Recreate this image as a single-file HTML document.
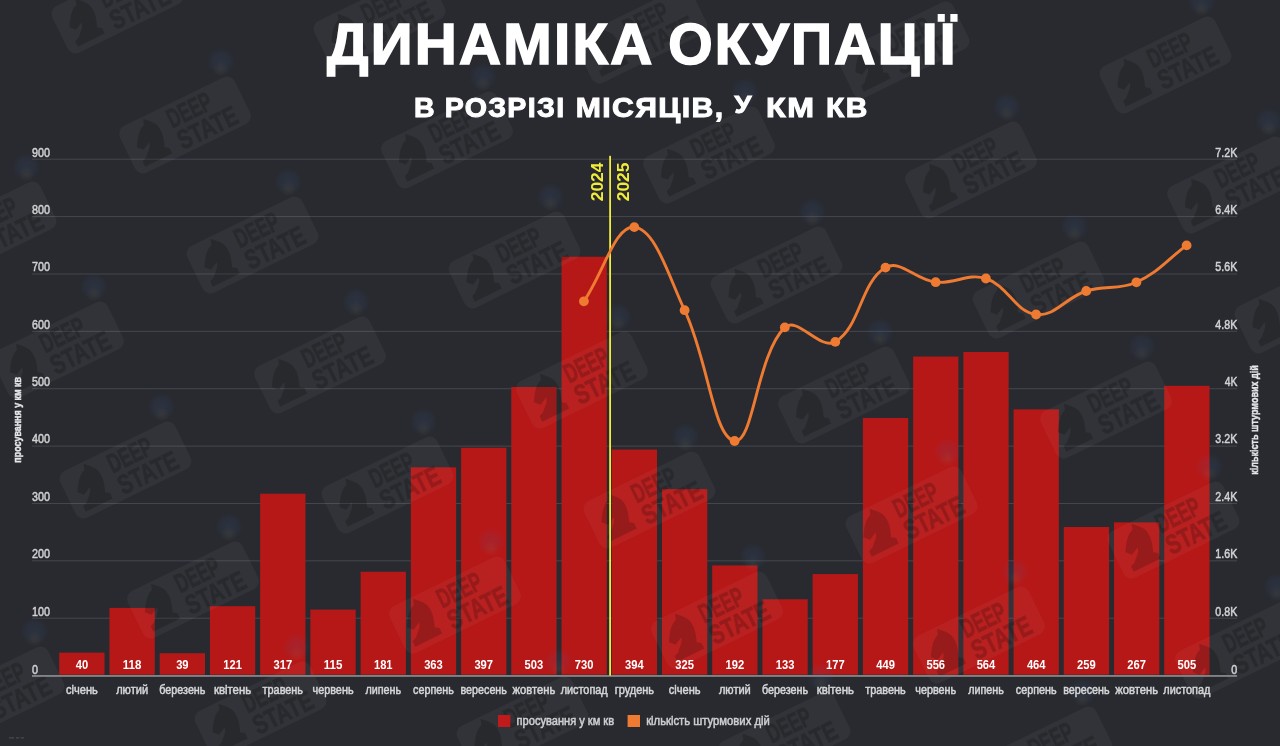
<!DOCTYPE html>
<html lang="uk"><head><meta charset="utf-8"><title>Динаміка окупації</title>
<style>html,body{margin:0;padding:0;background:#282a30;}body{width:1280px;height:746px;overflow:hidden;}</style></head>
<body>
<svg width="1280" height="746" viewBox="0 0 1280 746" style="display:block" font-family="'Liberation Sans', sans-serif">
<rect width="1280" height="746" fill="#282a30"/>
<g fill="#45474d">
<rect x="32" y="617.72" width="1205" height="1"/>
<rect x="32" y="560.34" width="1205" height="1"/>
<rect x="32" y="502.97" width="1205" height="1"/>
<rect x="32" y="445.59" width="1205" height="1"/>
<rect x="32" y="388.21" width="1205" height="1"/>
<rect x="32" y="330.83" width="1205" height="1"/>
<rect x="32" y="273.46" width="1205" height="1"/>
<rect x="32" y="216.08" width="1205" height="1"/>
<rect x="32" y="158.70" width="1205" height="1"/>
</g>
<g fill="#b61818">
<rect x="59.25" y="652.65" width="45.3" height="22.05"/>
<rect x="109.48" y="607.89" width="45.3" height="66.81"/>
<rect x="159.70" y="653.22" width="45.3" height="21.48"/>
<rect x="209.93" y="606.17" width="45.3" height="68.53"/>
<rect x="260.16" y="493.71" width="45.3" height="180.99"/>
<rect x="310.38" y="609.62" width="45.3" height="65.08"/>
<rect x="360.61" y="571.75" width="45.3" height="102.95"/>
<rect x="410.84" y="467.32" width="45.3" height="207.38"/>
<rect x="461.07" y="447.81" width="45.3" height="226.89"/>
<rect x="511.29" y="386.99" width="45.3" height="287.71"/>
<rect x="561.52" y="256.74" width="45.3" height="417.96"/>
<rect x="611.75" y="449.53" width="45.3" height="225.17"/>
<rect x="661.97" y="489.12" width="45.3" height="185.58"/>
<rect x="712.20" y="565.43" width="45.3" height="109.27"/>
<rect x="762.43" y="599.29" width="45.3" height="75.41"/>
<rect x="812.65" y="574.04" width="45.3" height="100.66"/>
<rect x="862.88" y="417.97" width="45.3" height="256.73"/>
<rect x="913.11" y="356.58" width="45.3" height="318.12"/>
<rect x="963.34" y="351.99" width="45.3" height="322.71"/>
<rect x="1013.56" y="409.37" width="45.3" height="265.33"/>
<rect x="1063.79" y="526.99" width="45.3" height="147.71"/>
<rect x="1114.02" y="522.40" width="45.3" height="152.30"/>
<rect x="1164.24" y="385.84" width="45.3" height="288.86"/>
</g>
<defs><radialGradient id="emb"><stop offset="0" stop-color="#3f68b3" stop-opacity="0.13"/><stop offset="0.6" stop-color="#3f68b3" stop-opacity="0.08"/><stop offset="1" stop-color="#3f68b3" stop-opacity="0"/></radialGradient><radialGradient id="emy"><stop offset="0" stop-color="#c9a227" stop-opacity="0.07"/><stop offset="1" stop-color="#c9a227" stop-opacity="0"/></radialGradient></defs>
<g id="wm">
<g transform="translate(1098.0,-55.0) rotate(-26)"><g transform="translate(60,-41) rotate(26)"><circle r="14" fill="url(#emb)"/><circle cy="7" r="8" fill="url(#emy)"/></g><rect x="-64" y="-26" width="128" height="52" rx="9" fill="#ffffff" opacity="0.042"/><path d="M-54,20 L-24,20 L-24,14 L-28,11 C-24,1 -21,-10 -29,-18 L-35,-24 L-37,-18 C-44,-16 -49,-8 -53,-1 L-48,4 L-40,0 C-40,5 -46,8 -49,12 L-54,14 Z" fill="#000000" opacity="0.18"/><g font-weight="700" font-size="27" fill="#000000" stroke="#000000" stroke-width="0.9" opacity="0.18"><text x="-13" y="-2.5" textLength="47" lengthAdjust="spacingAndGlyphs">DEEP</text><text x="-13" y="21.5" textLength="64" lengthAdjust="spacingAndGlyphs">STATE</text></g></g>
<g transform="translate(1360.0,-40.0) rotate(-26)"><g transform="translate(60,-41) rotate(26)"><circle r="14" fill="url(#emb)"/><circle cy="7" r="8" fill="url(#emy)"/></g><rect x="-64" y="-26" width="128" height="52" rx="9" fill="#ffffff" opacity="0.042"/><path d="M-54,20 L-24,20 L-24,14 L-28,11 C-24,1 -21,-10 -29,-18 L-35,-24 L-37,-18 C-44,-16 -49,-8 -53,-1 L-48,4 L-40,0 C-40,5 -46,8 -49,12 L-54,14 Z" fill="#000000" opacity="0.18"/><g font-weight="700" font-size="27" fill="#000000" stroke="#000000" stroke-width="0.9" opacity="0.18"><text x="-13" y="-2.5" textLength="47" lengthAdjust="spacingAndGlyphs">DEEP</text><text x="-13" y="21.5" textLength="64" lengthAdjust="spacingAndGlyphs">STATE</text></g></g>
<g transform="translate(117.5,5.0) rotate(-26)"><g transform="translate(60,-41) rotate(26)"><circle r="14" fill="url(#emb)"/><circle cy="7" r="8" fill="url(#emy)"/></g><rect x="-64" y="-26" width="128" height="52" rx="9" fill="#ffffff" opacity="0.042"/><path d="M-54,20 L-24,20 L-24,14 L-28,11 C-24,1 -21,-10 -29,-18 L-35,-24 L-37,-18 C-44,-16 -49,-8 -53,-1 L-48,4 L-40,0 C-40,5 -46,8 -49,12 L-54,14 Z" fill="#000000" opacity="0.18"/><g font-weight="700" font-size="27" fill="#000000" stroke="#000000" stroke-width="0.9" opacity="0.18"><text x="-13" y="-2.5" textLength="47" lengthAdjust="spacingAndGlyphs">DEEP</text><text x="-13" y="21.5" textLength="64" lengthAdjust="spacingAndGlyphs">STATE</text></g></g>
<g transform="translate(379.5,20.0) rotate(-26)"><g transform="translate(60,-41) rotate(26)"><circle r="14" fill="url(#emb)"/><circle cy="7" r="8" fill="url(#emy)"/></g><rect x="-64" y="-26" width="128" height="52" rx="9" fill="#ffffff" opacity="0.042"/><path d="M-54,20 L-24,20 L-24,14 L-28,11 C-24,1 -21,-10 -29,-18 L-35,-24 L-37,-18 C-44,-16 -49,-8 -53,-1 L-48,4 L-40,0 C-40,5 -46,8 -49,12 L-54,14 Z" fill="#000000" opacity="0.18"/><g font-weight="700" font-size="27" fill="#000000" stroke="#000000" stroke-width="0.9" opacity="0.18"><text x="-13" y="-2.5" textLength="47" lengthAdjust="spacingAndGlyphs">DEEP</text><text x="-13" y="21.5" textLength="64" lengthAdjust="spacingAndGlyphs">STATE</text></g></g>
<g transform="translate(641.5,35.0) rotate(-26)"><g transform="translate(60,-41) rotate(26)"><circle r="14" fill="url(#emb)"/><circle cy="7" r="8" fill="url(#emy)"/></g><rect x="-64" y="-26" width="128" height="52" rx="9" fill="#ffffff" opacity="0.042"/><path d="M-54,20 L-24,20 L-24,14 L-28,11 C-24,1 -21,-10 -29,-18 L-35,-24 L-37,-18 C-44,-16 -49,-8 -53,-1 L-48,4 L-40,0 C-40,5 -46,8 -49,12 L-54,14 Z" fill="#000000" opacity="0.18"/><g font-weight="700" font-size="27" fill="#000000" stroke="#000000" stroke-width="0.9" opacity="0.18"><text x="-13" y="-2.5" textLength="47" lengthAdjust="spacingAndGlyphs">DEEP</text><text x="-13" y="21.5" textLength="64" lengthAdjust="spacingAndGlyphs">STATE</text></g></g>
<g transform="translate(903.5,50.0) rotate(-26)"><g transform="translate(60,-41) rotate(26)"><circle r="14" fill="url(#emb)"/><circle cy="7" r="8" fill="url(#emy)"/></g><rect x="-64" y="-26" width="128" height="52" rx="9" fill="#ffffff" opacity="0.042"/><path d="M-54,20 L-24,20 L-24,14 L-28,11 C-24,1 -21,-10 -29,-18 L-35,-24 L-37,-18 C-44,-16 -49,-8 -53,-1 L-48,4 L-40,0 C-40,5 -46,8 -49,12 L-54,14 Z" fill="#000000" opacity="0.18"/><g font-weight="700" font-size="27" fill="#000000" stroke="#000000" stroke-width="0.9" opacity="0.18"><text x="-13" y="-2.5" textLength="47" lengthAdjust="spacingAndGlyphs">DEEP</text><text x="-13" y="21.5" textLength="64" lengthAdjust="spacingAndGlyphs">STATE</text></g></g>
<g transform="translate(1165.5,65.0) rotate(-26)"><g transform="translate(60,-41) rotate(26)"><circle r="14" fill="url(#emb)"/><circle cy="7" r="8" fill="url(#emy)"/></g><rect x="-64" y="-26" width="128" height="52" rx="9" fill="#ffffff" opacity="0.042"/><path d="M-54,20 L-24,20 L-24,14 L-28,11 C-24,1 -21,-10 -29,-18 L-35,-24 L-37,-18 C-44,-16 -49,-8 -53,-1 L-48,4 L-40,0 C-40,5 -46,8 -49,12 L-54,14 Z" fill="#000000" opacity="0.18"/><g font-weight="700" font-size="27" fill="#000000" stroke="#000000" stroke-width="0.9" opacity="0.18"><text x="-13" y="-2.5" textLength="47" lengthAdjust="spacingAndGlyphs">DEEP</text><text x="-13" y="21.5" textLength="64" lengthAdjust="spacingAndGlyphs">STATE</text></g></g>
<g transform="translate(-77.0,110.0) rotate(-26)"><g transform="translate(60,-41) rotate(26)"><circle r="14" fill="url(#emb)"/><circle cy="7" r="8" fill="url(#emy)"/></g><rect x="-64" y="-26" width="128" height="52" rx="9" fill="#ffffff" opacity="0.042"/><path d="M-54,20 L-24,20 L-24,14 L-28,11 C-24,1 -21,-10 -29,-18 L-35,-24 L-37,-18 C-44,-16 -49,-8 -53,-1 L-48,4 L-40,0 C-40,5 -46,8 -49,12 L-54,14 Z" fill="#000000" opacity="0.18"/><g font-weight="700" font-size="27" fill="#000000" stroke="#000000" stroke-width="0.9" opacity="0.18"><text x="-13" y="-2.5" textLength="47" lengthAdjust="spacingAndGlyphs">DEEP</text><text x="-13" y="21.5" textLength="64" lengthAdjust="spacingAndGlyphs">STATE</text></g></g>
<g transform="translate(185.0,125.0) rotate(-26)"><g transform="translate(60,-41) rotate(26)"><circle r="14" fill="url(#emb)"/><circle cy="7" r="8" fill="url(#emy)"/></g><rect x="-64" y="-26" width="128" height="52" rx="9" fill="#ffffff" opacity="0.042"/><path d="M-54,20 L-24,20 L-24,14 L-28,11 C-24,1 -21,-10 -29,-18 L-35,-24 L-37,-18 C-44,-16 -49,-8 -53,-1 L-48,4 L-40,0 C-40,5 -46,8 -49,12 L-54,14 Z" fill="#000000" opacity="0.18"/><g font-weight="700" font-size="27" fill="#000000" stroke="#000000" stroke-width="0.9" opacity="0.18"><text x="-13" y="-2.5" textLength="47" lengthAdjust="spacingAndGlyphs">DEEP</text><text x="-13" y="21.5" textLength="64" lengthAdjust="spacingAndGlyphs">STATE</text></g></g>
<g transform="translate(447.0,140.0) rotate(-26)"><g transform="translate(60,-41) rotate(26)"><circle r="14" fill="url(#emb)"/><circle cy="7" r="8" fill="url(#emy)"/></g><rect x="-64" y="-26" width="128" height="52" rx="9" fill="#ffffff" opacity="0.042"/><path d="M-54,20 L-24,20 L-24,14 L-28,11 C-24,1 -21,-10 -29,-18 L-35,-24 L-37,-18 C-44,-16 -49,-8 -53,-1 L-48,4 L-40,0 C-40,5 -46,8 -49,12 L-54,14 Z" fill="#000000" opacity="0.18"/><g font-weight="700" font-size="27" fill="#000000" stroke="#000000" stroke-width="0.9" opacity="0.18"><text x="-13" y="-2.5" textLength="47" lengthAdjust="spacingAndGlyphs">DEEP</text><text x="-13" y="21.5" textLength="64" lengthAdjust="spacingAndGlyphs">STATE</text></g></g>
<g transform="translate(709.0,155.0) rotate(-26)"><g transform="translate(60,-41) rotate(26)"><circle r="14" fill="url(#emb)"/><circle cy="7" r="8" fill="url(#emy)"/></g><rect x="-64" y="-26" width="128" height="52" rx="9" fill="#ffffff" opacity="0.042"/><path d="M-54,20 L-24,20 L-24,14 L-28,11 C-24,1 -21,-10 -29,-18 L-35,-24 L-37,-18 C-44,-16 -49,-8 -53,-1 L-48,4 L-40,0 C-40,5 -46,8 -49,12 L-54,14 Z" fill="#000000" opacity="0.18"/><g font-weight="700" font-size="27" fill="#000000" stroke="#000000" stroke-width="0.9" opacity="0.18"><text x="-13" y="-2.5" textLength="47" lengthAdjust="spacingAndGlyphs">DEEP</text><text x="-13" y="21.5" textLength="64" lengthAdjust="spacingAndGlyphs">STATE</text></g></g>
<g transform="translate(971.0,170.0) rotate(-26)"><g transform="translate(60,-41) rotate(26)"><circle r="14" fill="url(#emb)"/><circle cy="7" r="8" fill="url(#emy)"/></g><rect x="-64" y="-26" width="128" height="52" rx="9" fill="#ffffff" opacity="0.042"/><path d="M-54,20 L-24,20 L-24,14 L-28,11 C-24,1 -21,-10 -29,-18 L-35,-24 L-37,-18 C-44,-16 -49,-8 -53,-1 L-48,4 L-40,0 C-40,5 -46,8 -49,12 L-54,14 Z" fill="#000000" opacity="0.18"/><g font-weight="700" font-size="27" fill="#000000" stroke="#000000" stroke-width="0.9" opacity="0.18"><text x="-13" y="-2.5" textLength="47" lengthAdjust="spacingAndGlyphs">DEEP</text><text x="-13" y="21.5" textLength="64" lengthAdjust="spacingAndGlyphs">STATE</text></g></g>
<g transform="translate(1233.0,185.0) rotate(-26)"><g transform="translate(60,-41) rotate(26)"><circle r="14" fill="url(#emb)"/><circle cy="7" r="8" fill="url(#emy)"/></g><rect x="-64" y="-26" width="128" height="52" rx="9" fill="#ffffff" opacity="0.042"/><path d="M-54,20 L-24,20 L-24,14 L-28,11 C-24,1 -21,-10 -29,-18 L-35,-24 L-37,-18 C-44,-16 -49,-8 -53,-1 L-48,4 L-40,0 C-40,5 -46,8 -49,12 L-54,14 Z" fill="#000000" opacity="0.18"/><g font-weight="700" font-size="27" fill="#000000" stroke="#000000" stroke-width="0.9" opacity="0.18"><text x="-13" y="-2.5" textLength="47" lengthAdjust="spacingAndGlyphs">DEEP</text><text x="-13" y="21.5" textLength="64" lengthAdjust="spacingAndGlyphs">STATE</text></g></g>
<g transform="translate(-9.5,230.0) rotate(-26)"><g transform="translate(60,-41) rotate(26)"><circle r="14" fill="url(#emb)"/><circle cy="7" r="8" fill="url(#emy)"/></g><rect x="-64" y="-26" width="128" height="52" rx="9" fill="#ffffff" opacity="0.042"/><path d="M-54,20 L-24,20 L-24,14 L-28,11 C-24,1 -21,-10 -29,-18 L-35,-24 L-37,-18 C-44,-16 -49,-8 -53,-1 L-48,4 L-40,0 C-40,5 -46,8 -49,12 L-54,14 Z" fill="#000000" opacity="0.18"/><g font-weight="700" font-size="27" fill="#000000" stroke="#000000" stroke-width="0.9" opacity="0.18"><text x="-13" y="-2.5" textLength="47" lengthAdjust="spacingAndGlyphs">DEEP</text><text x="-13" y="21.5" textLength="64" lengthAdjust="spacingAndGlyphs">STATE</text></g></g>
<g transform="translate(252.5,245.0) rotate(-26)"><g transform="translate(60,-41) rotate(26)"><circle r="14" fill="url(#emb)"/><circle cy="7" r="8" fill="url(#emy)"/></g><rect x="-64" y="-26" width="128" height="52" rx="9" fill="#ffffff" opacity="0.042"/><path d="M-54,20 L-24,20 L-24,14 L-28,11 C-24,1 -21,-10 -29,-18 L-35,-24 L-37,-18 C-44,-16 -49,-8 -53,-1 L-48,4 L-40,0 C-40,5 -46,8 -49,12 L-54,14 Z" fill="#000000" opacity="0.18"/><g font-weight="700" font-size="27" fill="#000000" stroke="#000000" stroke-width="0.9" opacity="0.18"><text x="-13" y="-2.5" textLength="47" lengthAdjust="spacingAndGlyphs">DEEP</text><text x="-13" y="21.5" textLength="64" lengthAdjust="spacingAndGlyphs">STATE</text></g></g>
<g transform="translate(514.5,260.0) rotate(-26)"><g transform="translate(60,-41) rotate(26)"><circle r="14" fill="url(#emb)"/><circle cy="7" r="8" fill="url(#emy)"/></g><rect x="-64" y="-26" width="128" height="52" rx="9" fill="#ffffff" opacity="0.042"/><path d="M-54,20 L-24,20 L-24,14 L-28,11 C-24,1 -21,-10 -29,-18 L-35,-24 L-37,-18 C-44,-16 -49,-8 -53,-1 L-48,4 L-40,0 C-40,5 -46,8 -49,12 L-54,14 Z" fill="#000000" opacity="0.18"/><g font-weight="700" font-size="27" fill="#000000" stroke="#000000" stroke-width="0.9" opacity="0.18"><text x="-13" y="-2.5" textLength="47" lengthAdjust="spacingAndGlyphs">DEEP</text><text x="-13" y="21.5" textLength="64" lengthAdjust="spacingAndGlyphs">STATE</text></g></g>
<g transform="translate(776.5,275.0) rotate(-26)"><g transform="translate(60,-41) rotate(26)"><circle r="14" fill="url(#emb)"/><circle cy="7" r="8" fill="url(#emy)"/></g><rect x="-64" y="-26" width="128" height="52" rx="9" fill="#ffffff" opacity="0.042"/><path d="M-54,20 L-24,20 L-24,14 L-28,11 C-24,1 -21,-10 -29,-18 L-35,-24 L-37,-18 C-44,-16 -49,-8 -53,-1 L-48,4 L-40,0 C-40,5 -46,8 -49,12 L-54,14 Z" fill="#000000" opacity="0.18"/><g font-weight="700" font-size="27" fill="#000000" stroke="#000000" stroke-width="0.9" opacity="0.18"><text x="-13" y="-2.5" textLength="47" lengthAdjust="spacingAndGlyphs">DEEP</text><text x="-13" y="21.5" textLength="64" lengthAdjust="spacingAndGlyphs">STATE</text></g></g>
<g transform="translate(1038.5,290.0) rotate(-26)"><g transform="translate(60,-41) rotate(26)"><circle r="14" fill="url(#emb)"/><circle cy="7" r="8" fill="url(#emy)"/></g><rect x="-64" y="-26" width="128" height="52" rx="9" fill="#ffffff" opacity="0.042"/><path d="M-54,20 L-24,20 L-24,14 L-28,11 C-24,1 -21,-10 -29,-18 L-35,-24 L-37,-18 C-44,-16 -49,-8 -53,-1 L-48,4 L-40,0 C-40,5 -46,8 -49,12 L-54,14 Z" fill="#000000" opacity="0.18"/><g font-weight="700" font-size="27" fill="#000000" stroke="#000000" stroke-width="0.9" opacity="0.18"><text x="-13" y="-2.5" textLength="47" lengthAdjust="spacingAndGlyphs">DEEP</text><text x="-13" y="21.5" textLength="64" lengthAdjust="spacingAndGlyphs">STATE</text></g></g>
<g transform="translate(1300.5,305.0) rotate(-26)"><g transform="translate(60,-41) rotate(26)"><circle r="14" fill="url(#emb)"/><circle cy="7" r="8" fill="url(#emy)"/></g><rect x="-64" y="-26" width="128" height="52" rx="9" fill="#ffffff" opacity="0.042"/><path d="M-54,20 L-24,20 L-24,14 L-28,11 C-24,1 -21,-10 -29,-18 L-35,-24 L-37,-18 C-44,-16 -49,-8 -53,-1 L-48,4 L-40,0 C-40,5 -46,8 -49,12 L-54,14 Z" fill="#000000" opacity="0.18"/><g font-weight="700" font-size="27" fill="#000000" stroke="#000000" stroke-width="0.9" opacity="0.18"><text x="-13" y="-2.5" textLength="47" lengthAdjust="spacingAndGlyphs">DEEP</text><text x="-13" y="21.5" textLength="64" lengthAdjust="spacingAndGlyphs">STATE</text></g></g>
<g transform="translate(58.0,350.0) rotate(-26)"><g transform="translate(60,-41) rotate(26)"><circle r="14" fill="url(#emb)"/><circle cy="7" r="8" fill="url(#emy)"/></g><rect x="-64" y="-26" width="128" height="52" rx="9" fill="#ffffff" opacity="0.042"/><path d="M-54,20 L-24,20 L-24,14 L-28,11 C-24,1 -21,-10 -29,-18 L-35,-24 L-37,-18 C-44,-16 -49,-8 -53,-1 L-48,4 L-40,0 C-40,5 -46,8 -49,12 L-54,14 Z" fill="#000000" opacity="0.18"/><g font-weight="700" font-size="27" fill="#000000" stroke="#000000" stroke-width="0.9" opacity="0.18"><text x="-13" y="-2.5" textLength="47" lengthAdjust="spacingAndGlyphs">DEEP</text><text x="-13" y="21.5" textLength="64" lengthAdjust="spacingAndGlyphs">STATE</text></g></g>
<g transform="translate(320.0,365.0) rotate(-26)"><g transform="translate(60,-41) rotate(26)"><circle r="14" fill="url(#emb)"/><circle cy="7" r="8" fill="url(#emy)"/></g><rect x="-64" y="-26" width="128" height="52" rx="9" fill="#ffffff" opacity="0.042"/><path d="M-54,20 L-24,20 L-24,14 L-28,11 C-24,1 -21,-10 -29,-18 L-35,-24 L-37,-18 C-44,-16 -49,-8 -53,-1 L-48,4 L-40,0 C-40,5 -46,8 -49,12 L-54,14 Z" fill="#000000" opacity="0.18"/><g font-weight="700" font-size="27" fill="#000000" stroke="#000000" stroke-width="0.9" opacity="0.18"><text x="-13" y="-2.5" textLength="47" lengthAdjust="spacingAndGlyphs">DEEP</text><text x="-13" y="21.5" textLength="64" lengthAdjust="spacingAndGlyphs">STATE</text></g></g>
<g transform="translate(582.0,380.0) rotate(-26)"><g transform="translate(60,-41) rotate(26)"><circle r="14" fill="url(#emb)"/><circle cy="7" r="8" fill="url(#emy)"/></g><rect x="-64" y="-26" width="128" height="52" rx="9" fill="#ffffff" opacity="0.042"/><path d="M-54,20 L-24,20 L-24,14 L-28,11 C-24,1 -21,-10 -29,-18 L-35,-24 L-37,-18 C-44,-16 -49,-8 -53,-1 L-48,4 L-40,0 C-40,5 -46,8 -49,12 L-54,14 Z" fill="#000000" opacity="0.18"/><g font-weight="700" font-size="27" fill="#000000" stroke="#000000" stroke-width="0.9" opacity="0.18"><text x="-13" y="-2.5" textLength="47" lengthAdjust="spacingAndGlyphs">DEEP</text><text x="-13" y="21.5" textLength="64" lengthAdjust="spacingAndGlyphs">STATE</text></g></g>
<g transform="translate(844.0,395.0) rotate(-26)"><g transform="translate(60,-41) rotate(26)"><circle r="14" fill="url(#emb)"/><circle cy="7" r="8" fill="url(#emy)"/></g><rect x="-64" y="-26" width="128" height="52" rx="9" fill="#ffffff" opacity="0.042"/><path d="M-54,20 L-24,20 L-24,14 L-28,11 C-24,1 -21,-10 -29,-18 L-35,-24 L-37,-18 C-44,-16 -49,-8 -53,-1 L-48,4 L-40,0 C-40,5 -46,8 -49,12 L-54,14 Z" fill="#000000" opacity="0.18"/><g font-weight="700" font-size="27" fill="#000000" stroke="#000000" stroke-width="0.9" opacity="0.18"><text x="-13" y="-2.5" textLength="47" lengthAdjust="spacingAndGlyphs">DEEP</text><text x="-13" y="21.5" textLength="64" lengthAdjust="spacingAndGlyphs">STATE</text></g></g>
<g transform="translate(1106.0,410.0) rotate(-26)"><g transform="translate(60,-41) rotate(26)"><circle r="14" fill="url(#emb)"/><circle cy="7" r="8" fill="url(#emy)"/></g><rect x="-64" y="-26" width="128" height="52" rx="9" fill="#ffffff" opacity="0.042"/><path d="M-54,20 L-24,20 L-24,14 L-28,11 C-24,1 -21,-10 -29,-18 L-35,-24 L-37,-18 C-44,-16 -49,-8 -53,-1 L-48,4 L-40,0 C-40,5 -46,8 -49,12 L-54,14 Z" fill="#000000" opacity="0.18"/><g font-weight="700" font-size="27" fill="#000000" stroke="#000000" stroke-width="0.9" opacity="0.18"><text x="-13" y="-2.5" textLength="47" lengthAdjust="spacingAndGlyphs">DEEP</text><text x="-13" y="21.5" textLength="64" lengthAdjust="spacingAndGlyphs">STATE</text></g></g>
<g transform="translate(125.5,470.0) rotate(-26)"><g transform="translate(60,-41) rotate(26)"><circle r="14" fill="url(#emb)"/><circle cy="7" r="8" fill="url(#emy)"/></g><rect x="-64" y="-26" width="128" height="52" rx="9" fill="#ffffff" opacity="0.042"/><path d="M-54,20 L-24,20 L-24,14 L-28,11 C-24,1 -21,-10 -29,-18 L-35,-24 L-37,-18 C-44,-16 -49,-8 -53,-1 L-48,4 L-40,0 C-40,5 -46,8 -49,12 L-54,14 Z" fill="#000000" opacity="0.18"/><g font-weight="700" font-size="27" fill="#000000" stroke="#000000" stroke-width="0.9" opacity="0.18"><text x="-13" y="-2.5" textLength="47" lengthAdjust="spacingAndGlyphs">DEEP</text><text x="-13" y="21.5" textLength="64" lengthAdjust="spacingAndGlyphs">STATE</text></g></g>
<g transform="translate(387.5,485.0) rotate(-26)"><g transform="translate(60,-41) rotate(26)"><circle r="14" fill="url(#emb)"/><circle cy="7" r="8" fill="url(#emy)"/></g><rect x="-64" y="-26" width="128" height="52" rx="9" fill="#ffffff" opacity="0.042"/><path d="M-54,20 L-24,20 L-24,14 L-28,11 C-24,1 -21,-10 -29,-18 L-35,-24 L-37,-18 C-44,-16 -49,-8 -53,-1 L-48,4 L-40,0 C-40,5 -46,8 -49,12 L-54,14 Z" fill="#000000" opacity="0.18"/><g font-weight="700" font-size="27" fill="#000000" stroke="#000000" stroke-width="0.9" opacity="0.18"><text x="-13" y="-2.5" textLength="47" lengthAdjust="spacingAndGlyphs">DEEP</text><text x="-13" y="21.5" textLength="64" lengthAdjust="spacingAndGlyphs">STATE</text></g></g>
<g transform="translate(649.5,500.0) rotate(-26)"><g transform="translate(60,-41) rotate(26)"><circle r="14" fill="url(#emb)"/><circle cy="7" r="8" fill="url(#emy)"/></g><rect x="-64" y="-26" width="128" height="52" rx="9" fill="#ffffff" opacity="0.042"/><path d="M-54,20 L-24,20 L-24,14 L-28,11 C-24,1 -21,-10 -29,-18 L-35,-24 L-37,-18 C-44,-16 -49,-8 -53,-1 L-48,4 L-40,0 C-40,5 -46,8 -49,12 L-54,14 Z" fill="#000000" opacity="0.18"/><g font-weight="700" font-size="27" fill="#000000" stroke="#000000" stroke-width="0.9" opacity="0.18"><text x="-13" y="-2.5" textLength="47" lengthAdjust="spacingAndGlyphs">DEEP</text><text x="-13" y="21.5" textLength="64" lengthAdjust="spacingAndGlyphs">STATE</text></g></g>
<g transform="translate(911.5,515.0) rotate(-26)"><g transform="translate(60,-41) rotate(26)"><circle r="14" fill="url(#emb)"/><circle cy="7" r="8" fill="url(#emy)"/></g><rect x="-64" y="-26" width="128" height="52" rx="9" fill="#ffffff" opacity="0.042"/><path d="M-54,20 L-24,20 L-24,14 L-28,11 C-24,1 -21,-10 -29,-18 L-35,-24 L-37,-18 C-44,-16 -49,-8 -53,-1 L-48,4 L-40,0 C-40,5 -46,8 -49,12 L-54,14 Z" fill="#000000" opacity="0.18"/><g font-weight="700" font-size="27" fill="#000000" stroke="#000000" stroke-width="0.9" opacity="0.18"><text x="-13" y="-2.5" textLength="47" lengthAdjust="spacingAndGlyphs">DEEP</text><text x="-13" y="21.5" textLength="64" lengthAdjust="spacingAndGlyphs">STATE</text></g></g>
<g transform="translate(1173.5,530.0) rotate(-26)"><g transform="translate(60,-41) rotate(26)"><circle r="14" fill="url(#emb)"/><circle cy="7" r="8" fill="url(#emy)"/></g><rect x="-64" y="-26" width="128" height="52" rx="9" fill="#ffffff" opacity="0.042"/><path d="M-54,20 L-24,20 L-24,14 L-28,11 C-24,1 -21,-10 -29,-18 L-35,-24 L-37,-18 C-44,-16 -49,-8 -53,-1 L-48,4 L-40,0 C-40,5 -46,8 -49,12 L-54,14 Z" fill="#000000" opacity="0.18"/><g font-weight="700" font-size="27" fill="#000000" stroke="#000000" stroke-width="0.9" opacity="0.18"><text x="-13" y="-2.5" textLength="47" lengthAdjust="spacingAndGlyphs">DEEP</text><text x="-13" y="21.5" textLength="64" lengthAdjust="spacingAndGlyphs">STATE</text></g></g>
<g transform="translate(-69.0,575.0) rotate(-26)"><g transform="translate(60,-41) rotate(26)"><circle r="14" fill="url(#emb)"/><circle cy="7" r="8" fill="url(#emy)"/></g><rect x="-64" y="-26" width="128" height="52" rx="9" fill="#ffffff" opacity="0.042"/><path d="M-54,20 L-24,20 L-24,14 L-28,11 C-24,1 -21,-10 -29,-18 L-35,-24 L-37,-18 C-44,-16 -49,-8 -53,-1 L-48,4 L-40,0 C-40,5 -46,8 -49,12 L-54,14 Z" fill="#000000" opacity="0.18"/><g font-weight="700" font-size="27" fill="#000000" stroke="#000000" stroke-width="0.9" opacity="0.18"><text x="-13" y="-2.5" textLength="47" lengthAdjust="spacingAndGlyphs">DEEP</text><text x="-13" y="21.5" textLength="64" lengthAdjust="spacingAndGlyphs">STATE</text></g></g>
<g transform="translate(193.0,590.0) rotate(-26)"><g transform="translate(60,-41) rotate(26)"><circle r="14" fill="url(#emb)"/><circle cy="7" r="8" fill="url(#emy)"/></g><rect x="-64" y="-26" width="128" height="52" rx="9" fill="#ffffff" opacity="0.042"/><path d="M-54,20 L-24,20 L-24,14 L-28,11 C-24,1 -21,-10 -29,-18 L-35,-24 L-37,-18 C-44,-16 -49,-8 -53,-1 L-48,4 L-40,0 C-40,5 -46,8 -49,12 L-54,14 Z" fill="#000000" opacity="0.18"/><g font-weight="700" font-size="27" fill="#000000" stroke="#000000" stroke-width="0.9" opacity="0.18"><text x="-13" y="-2.5" textLength="47" lengthAdjust="spacingAndGlyphs">DEEP</text><text x="-13" y="21.5" textLength="64" lengthAdjust="spacingAndGlyphs">STATE</text></g></g>
<g transform="translate(455.0,605.0) rotate(-26)"><g transform="translate(60,-41) rotate(26)"><circle r="14" fill="url(#emb)"/><circle cy="7" r="8" fill="url(#emy)"/></g><rect x="-64" y="-26" width="128" height="52" rx="9" fill="#ffffff" opacity="0.042"/><path d="M-54,20 L-24,20 L-24,14 L-28,11 C-24,1 -21,-10 -29,-18 L-35,-24 L-37,-18 C-44,-16 -49,-8 -53,-1 L-48,4 L-40,0 C-40,5 -46,8 -49,12 L-54,14 Z" fill="#000000" opacity="0.18"/><g font-weight="700" font-size="27" fill="#000000" stroke="#000000" stroke-width="0.9" opacity="0.18"><text x="-13" y="-2.5" textLength="47" lengthAdjust="spacingAndGlyphs">DEEP</text><text x="-13" y="21.5" textLength="64" lengthAdjust="spacingAndGlyphs">STATE</text></g></g>
<g transform="translate(717.0,620.0) rotate(-26)"><g transform="translate(60,-41) rotate(26)"><circle r="14" fill="url(#emb)"/><circle cy="7" r="8" fill="url(#emy)"/></g><rect x="-64" y="-26" width="128" height="52" rx="9" fill="#ffffff" opacity="0.042"/><path d="M-54,20 L-24,20 L-24,14 L-28,11 C-24,1 -21,-10 -29,-18 L-35,-24 L-37,-18 C-44,-16 -49,-8 -53,-1 L-48,4 L-40,0 C-40,5 -46,8 -49,12 L-54,14 Z" fill="#000000" opacity="0.18"/><g font-weight="700" font-size="27" fill="#000000" stroke="#000000" stroke-width="0.9" opacity="0.18"><text x="-13" y="-2.5" textLength="47" lengthAdjust="spacingAndGlyphs">DEEP</text><text x="-13" y="21.5" textLength="64" lengthAdjust="spacingAndGlyphs">STATE</text></g></g>
<g transform="translate(979.0,635.0) rotate(-26)"><g transform="translate(60,-41) rotate(26)"><circle r="14" fill="url(#emb)"/><circle cy="7" r="8" fill="url(#emy)"/></g><rect x="-64" y="-26" width="128" height="52" rx="9" fill="#ffffff" opacity="0.042"/><path d="M-54,20 L-24,20 L-24,14 L-28,11 C-24,1 -21,-10 -29,-18 L-35,-24 L-37,-18 C-44,-16 -49,-8 -53,-1 L-48,4 L-40,0 C-40,5 -46,8 -49,12 L-54,14 Z" fill="#000000" opacity="0.18"/><g font-weight="700" font-size="27" fill="#000000" stroke="#000000" stroke-width="0.9" opacity="0.18"><text x="-13" y="-2.5" textLength="47" lengthAdjust="spacingAndGlyphs">DEEP</text><text x="-13" y="21.5" textLength="64" lengthAdjust="spacingAndGlyphs">STATE</text></g></g>
<g transform="translate(1241.0,650.0) rotate(-26)"><g transform="translate(60,-41) rotate(26)"><circle r="14" fill="url(#emb)"/><circle cy="7" r="8" fill="url(#emy)"/></g><rect x="-64" y="-26" width="128" height="52" rx="9" fill="#ffffff" opacity="0.042"/><path d="M-54,20 L-24,20 L-24,14 L-28,11 C-24,1 -21,-10 -29,-18 L-35,-24 L-37,-18 C-44,-16 -49,-8 -53,-1 L-48,4 L-40,0 C-40,5 -46,8 -49,12 L-54,14 Z" fill="#000000" opacity="0.18"/><g font-weight="700" font-size="27" fill="#000000" stroke="#000000" stroke-width="0.9" opacity="0.18"><text x="-13" y="-2.5" textLength="47" lengthAdjust="spacingAndGlyphs">DEEP</text><text x="-13" y="21.5" textLength="64" lengthAdjust="spacingAndGlyphs">STATE</text></g></g>
<g transform="translate(-1.5,695.0) rotate(-26)"><g transform="translate(60,-41) rotate(26)"><circle r="14" fill="url(#emb)"/><circle cy="7" r="8" fill="url(#emy)"/></g><rect x="-64" y="-26" width="128" height="52" rx="9" fill="#ffffff" opacity="0.042"/><path d="M-54,20 L-24,20 L-24,14 L-28,11 C-24,1 -21,-10 -29,-18 L-35,-24 L-37,-18 C-44,-16 -49,-8 -53,-1 L-48,4 L-40,0 C-40,5 -46,8 -49,12 L-54,14 Z" fill="#000000" opacity="0.18"/><g font-weight="700" font-size="27" fill="#000000" stroke="#000000" stroke-width="0.9" opacity="0.18"><text x="-13" y="-2.5" textLength="47" lengthAdjust="spacingAndGlyphs">DEEP</text><text x="-13" y="21.5" textLength="64" lengthAdjust="spacingAndGlyphs">STATE</text></g></g>
<g transform="translate(260.5,710.0) rotate(-26)"><g transform="translate(60,-41) rotate(26)"><circle r="14" fill="url(#emb)"/><circle cy="7" r="8" fill="url(#emy)"/></g><rect x="-64" y="-26" width="128" height="52" rx="9" fill="#ffffff" opacity="0.042"/><path d="M-54,20 L-24,20 L-24,14 L-28,11 C-24,1 -21,-10 -29,-18 L-35,-24 L-37,-18 C-44,-16 -49,-8 -53,-1 L-48,4 L-40,0 C-40,5 -46,8 -49,12 L-54,14 Z" fill="#000000" opacity="0.18"/><g font-weight="700" font-size="27" fill="#000000" stroke="#000000" stroke-width="0.9" opacity="0.18"><text x="-13" y="-2.5" textLength="47" lengthAdjust="spacingAndGlyphs">DEEP</text><text x="-13" y="21.5" textLength="64" lengthAdjust="spacingAndGlyphs">STATE</text></g></g>
<g transform="translate(522.5,725.0) rotate(-26)"><g transform="translate(60,-41) rotate(26)"><circle r="14" fill="url(#emb)"/><circle cy="7" r="8" fill="url(#emy)"/></g><rect x="-64" y="-26" width="128" height="52" rx="9" fill="#ffffff" opacity="0.042"/><path d="M-54,20 L-24,20 L-24,14 L-28,11 C-24,1 -21,-10 -29,-18 L-35,-24 L-37,-18 C-44,-16 -49,-8 -53,-1 L-48,4 L-40,0 C-40,5 -46,8 -49,12 L-54,14 Z" fill="#000000" opacity="0.18"/><g font-weight="700" font-size="27" fill="#000000" stroke="#000000" stroke-width="0.9" opacity="0.18"><text x="-13" y="-2.5" textLength="47" lengthAdjust="spacingAndGlyphs">DEEP</text><text x="-13" y="21.5" textLength="64" lengthAdjust="spacingAndGlyphs">STATE</text></g></g>
<g transform="translate(784.5,740.0) rotate(-26)"><g transform="translate(60,-41) rotate(26)"><circle r="14" fill="url(#emb)"/><circle cy="7" r="8" fill="url(#emy)"/></g><rect x="-64" y="-26" width="128" height="52" rx="9" fill="#ffffff" opacity="0.042"/><path d="M-54,20 L-24,20 L-24,14 L-28,11 C-24,1 -21,-10 -29,-18 L-35,-24 L-37,-18 C-44,-16 -49,-8 -53,-1 L-48,4 L-40,0 C-40,5 -46,8 -49,12 L-54,14 Z" fill="#000000" opacity="0.18"/><g font-weight="700" font-size="27" fill="#000000" stroke="#000000" stroke-width="0.9" opacity="0.18"><text x="-13" y="-2.5" textLength="47" lengthAdjust="spacingAndGlyphs">DEEP</text><text x="-13" y="21.5" textLength="64" lengthAdjust="spacingAndGlyphs">STATE</text></g></g>
<g transform="translate(1046.5,755.0) rotate(-26)"><g transform="translate(60,-41) rotate(26)"><circle r="14" fill="url(#emb)"/><circle cy="7" r="8" fill="url(#emy)"/></g><rect x="-64" y="-26" width="128" height="52" rx="9" fill="#ffffff" opacity="0.042"/><path d="M-54,20 L-24,20 L-24,14 L-28,11 C-24,1 -21,-10 -29,-18 L-35,-24 L-37,-18 C-44,-16 -49,-8 -53,-1 L-48,4 L-40,0 C-40,5 -46,8 -49,12 L-54,14 Z" fill="#000000" opacity="0.18"/><g font-weight="700" font-size="27" fill="#000000" stroke="#000000" stroke-width="0.9" opacity="0.18"><text x="-13" y="-2.5" textLength="47" lengthAdjust="spacingAndGlyphs">DEEP</text><text x="-13" y="21.5" textLength="64" lengthAdjust="spacingAndGlyphs">STATE</text></g></g>
<g transform="translate(1308.5,770.0) rotate(-26)"><g transform="translate(60,-41) rotate(26)"><circle r="14" fill="url(#emb)"/><circle cy="7" r="8" fill="url(#emy)"/></g><rect x="-64" y="-26" width="128" height="52" rx="9" fill="#ffffff" opacity="0.042"/><path d="M-54,20 L-24,20 L-24,14 L-28,11 C-24,1 -21,-10 -29,-18 L-35,-24 L-37,-18 C-44,-16 -49,-8 -53,-1 L-48,4 L-40,0 C-40,5 -46,8 -49,12 L-54,14 Z" fill="#000000" opacity="0.18"/><g font-weight="700" font-size="27" fill="#000000" stroke="#000000" stroke-width="0.9" opacity="0.18"><text x="-13" y="-2.5" textLength="47" lengthAdjust="spacingAndGlyphs">DEEP</text><text x="-13" y="21.5" textLength="64" lengthAdjust="spacingAndGlyphs">STATE</text></g></g>
</g>
<rect x="32" y="675.10" width="1205" height="1.7" fill="#8b8c90"/>
<rect x="609.2" y="155.8" width="1.8" height="519.80" fill="#f1ec3a"/>
<text transform="translate(602.6,201.3) rotate(-90)" font-size="17.3" font-weight="700" fill="#f1ec3a" textLength="38.8" lengthAdjust="spacingAndGlyphs">2024</text>
<text transform="translate(628.9,201.3) rotate(-90)" font-size="17.3" font-weight="700" fill="#f1ec3a" textLength="38.8" lengthAdjust="spacingAndGlyphs">2025</text>
<path d="M583.9,301.3 C604.1,271.6 615.0,225.4 634.3,227.1 C655.2,229.0 668.2,275.2 684.6,310.2 C708.3,360.7 713.4,437.4 734.6,441.0 C753.4,444.2 756.5,355.3 784.8,327.4 C796.8,315.6 820.4,350.7 835.3,341.9 C860.7,326.8 860.1,282.7 885.5,267.6 C900.3,258.8 915.2,280.0 935.7,282.2 C955.4,284.3 967.9,272.7 985.9,278.5 C1008.0,285.6 1014.9,311.9 1036.1,314.5 C1055.1,316.9 1065.3,297.7 1086.2,291.0 C1105.4,284.8 1118.3,290.5 1136.4,282.3 C1158.5,272.3 1166.5,260.2 1186.6,245.4" fill="none" stroke="#ef7a31" stroke-width="2.9" stroke-linecap="round" stroke-linejoin="round"/>
<g fill="#ef7a31">
<circle cx="583.9" cy="301.3" r="4.9"/>
<circle cx="634.3" cy="227.1" r="4.9"/>
<circle cx="684.6" cy="310.2" r="4.9"/>
<circle cx="734.6" cy="441.0" r="4.9"/>
<circle cx="784.8" cy="327.4" r="4.9"/>
<circle cx="835.3" cy="341.9" r="4.9"/>
<circle cx="885.5" cy="267.6" r="4.9"/>
<circle cx="935.7" cy="282.2" r="4.9"/>
<circle cx="985.9" cy="278.5" r="4.9"/>
<circle cx="1036.1" cy="314.5" r="4.9"/>
<circle cx="1086.2" cy="291.0" r="4.9"/>
<circle cx="1136.4" cy="282.3" r="4.9"/>
<circle cx="1186.6" cy="245.4" r="4.9"/>
</g>
<g font-size="13.1" font-weight="700" fill="#ffffff" text-anchor="middle" lengthAdjust="spacingAndGlyphs">
<text x="81.90" y="668.6" textLength="12.43" lengthAdjust="spacingAndGlyphs">40</text>
<text x="132.13" y="668.6" textLength="18.65" lengthAdjust="spacingAndGlyphs">118</text>
<text x="182.35" y="668.6" textLength="12.43" lengthAdjust="spacingAndGlyphs">39</text>
<text x="232.58" y="668.6" textLength="18.65" lengthAdjust="spacingAndGlyphs">121</text>
<text x="282.81" y="668.6" textLength="18.65" lengthAdjust="spacingAndGlyphs">317</text>
<text x="333.03" y="668.6" textLength="18.65" lengthAdjust="spacingAndGlyphs">115</text>
<text x="383.26" y="668.6" textLength="18.65" lengthAdjust="spacingAndGlyphs">181</text>
<text x="433.49" y="668.6" textLength="18.65" lengthAdjust="spacingAndGlyphs">363</text>
<text x="483.72" y="668.6" textLength="18.65" lengthAdjust="spacingAndGlyphs">397</text>
<text x="533.94" y="668.6" textLength="18.65" lengthAdjust="spacingAndGlyphs">503</text>
<text x="584.17" y="668.6" textLength="18.65" lengthAdjust="spacingAndGlyphs">730</text>
<text x="634.40" y="668.6" textLength="18.65" lengthAdjust="spacingAndGlyphs">394</text>
<text x="684.62" y="668.6" textLength="18.65" lengthAdjust="spacingAndGlyphs">325</text>
<text x="734.85" y="668.6" textLength="18.65" lengthAdjust="spacingAndGlyphs">192</text>
<text x="785.08" y="668.6" textLength="18.65" lengthAdjust="spacingAndGlyphs">133</text>
<text x="835.30" y="668.6" textLength="18.65" lengthAdjust="spacingAndGlyphs">177</text>
<text x="885.53" y="668.6" textLength="18.65" lengthAdjust="spacingAndGlyphs">449</text>
<text x="935.76" y="668.6" textLength="18.65" lengthAdjust="spacingAndGlyphs">556</text>
<text x="985.99" y="668.6" textLength="18.65" lengthAdjust="spacingAndGlyphs">564</text>
<text x="1036.21" y="668.6" textLength="18.65" lengthAdjust="spacingAndGlyphs">464</text>
<text x="1086.44" y="668.6" textLength="18.65" lengthAdjust="spacingAndGlyphs">259</text>
<text x="1136.67" y="668.6" textLength="18.65" lengthAdjust="spacingAndGlyphs">267</text>
<text x="1186.89" y="668.6" textLength="18.65" lengthAdjust="spacingAndGlyphs">505</text>
</g>
<g font-size="12" font-weight="400" fill="#d6d6d8" stroke="#d6d6d8" stroke-width="0.5" text-anchor="middle">
<text x="81.90" y="693.6" textLength="31.82" lengthAdjust="spacingAndGlyphs">січень</text>
<text x="132.13" y="693.6" textLength="31.89" lengthAdjust="spacingAndGlyphs">лютий</text>
<text x="182.35" y="693.6" textLength="46.20" lengthAdjust="spacingAndGlyphs">березень</text>
<text x="232.58" y="693.6" textLength="37.26" lengthAdjust="spacingAndGlyphs">квітень</text>
<text x="282.81" y="693.6" textLength="40.50" lengthAdjust="spacingAndGlyphs">травень</text>
<text x="333.03" y="693.6" textLength="41.02" lengthAdjust="spacingAndGlyphs">червень</text>
<text x="383.26" y="693.6" textLength="35.72" lengthAdjust="spacingAndGlyphs">липень</text>
<text x="433.49" y="693.6" textLength="40.76" lengthAdjust="spacingAndGlyphs">серпень</text>
<text x="483.72" y="693.6" textLength="46.41" lengthAdjust="spacingAndGlyphs">вересень</text>
<text x="533.94" y="693.6" textLength="42.72" lengthAdjust="spacingAndGlyphs">жовтень</text>
<text x="584.17" y="693.6" textLength="47.08" lengthAdjust="spacingAndGlyphs">листопад</text>
<text x="634.40" y="693.6" textLength="39.36" lengthAdjust="spacingAndGlyphs">грудень</text>
<text x="684.62" y="693.6" textLength="31.82" lengthAdjust="spacingAndGlyphs">січень</text>
<text x="734.85" y="693.6" textLength="31.89" lengthAdjust="spacingAndGlyphs">лютий</text>
<text x="785.08" y="693.6" textLength="46.20" lengthAdjust="spacingAndGlyphs">березень</text>
<text x="835.30" y="693.6" textLength="37.26" lengthAdjust="spacingAndGlyphs">квітень</text>
<text x="885.53" y="693.6" textLength="40.50" lengthAdjust="spacingAndGlyphs">травень</text>
<text x="935.76" y="693.6" textLength="41.02" lengthAdjust="spacingAndGlyphs">червень</text>
<text x="985.99" y="693.6" textLength="35.72" lengthAdjust="spacingAndGlyphs">липень</text>
<text x="1036.21" y="693.6" textLength="40.76" lengthAdjust="spacingAndGlyphs">серпень</text>
<text x="1086.44" y="693.6" textLength="46.41" lengthAdjust="spacingAndGlyphs">вересень</text>
<text x="1136.67" y="693.6" textLength="42.72" lengthAdjust="spacingAndGlyphs">жовтень</text>
<text x="1186.89" y="693.6" textLength="47.08" lengthAdjust="spacingAndGlyphs">листопад</text>
</g>
<g font-size="13" font-weight="400" fill="#d2d2d4" stroke="#d2d2d4" stroke-width="0.5">
<text x="32" y="673.70" textLength="6.00" lengthAdjust="spacingAndGlyphs">0</text>
<text x="32" y="615.62" textLength="18.00" lengthAdjust="spacingAndGlyphs">100</text>
<text x="32" y="558.24" textLength="18.00" lengthAdjust="spacingAndGlyphs">200</text>
<text x="32" y="500.87" textLength="18.00" lengthAdjust="spacingAndGlyphs">300</text>
<text x="32" y="443.49" textLength="18.00" lengthAdjust="spacingAndGlyphs">400</text>
<text x="32" y="386.11" textLength="18.00" lengthAdjust="spacingAndGlyphs">500</text>
<text x="32" y="328.73" textLength="18.00" lengthAdjust="spacingAndGlyphs">600</text>
<text x="32" y="271.36" textLength="18.00" lengthAdjust="spacingAndGlyphs">700</text>
<text x="32" y="213.98" textLength="18.00" lengthAdjust="spacingAndGlyphs">800</text>
<text x="32" y="156.60" textLength="18.00" lengthAdjust="spacingAndGlyphs">900</text>
<text x="1237.3" y="673.70" text-anchor="end" textLength="6.00" lengthAdjust="spacingAndGlyphs">0</text>
<text x="1237.3" y="615.62" text-anchor="end" textLength="21.94" lengthAdjust="spacingAndGlyphs">0.8K</text>
<text x="1237.3" y="558.24" text-anchor="end" textLength="21.94" lengthAdjust="spacingAndGlyphs">1.6K</text>
<text x="1237.3" y="500.87" text-anchor="end" textLength="21.94" lengthAdjust="spacingAndGlyphs">2.4K</text>
<text x="1237.3" y="443.49" text-anchor="end" textLength="21.94" lengthAdjust="spacingAndGlyphs">3.2K</text>
<text x="1237.3" y="386.11" text-anchor="end" textLength="12.60" lengthAdjust="spacingAndGlyphs">4K</text>
<text x="1237.3" y="328.73" text-anchor="end" textLength="21.94" lengthAdjust="spacingAndGlyphs">4.8K</text>
<text x="1237.3" y="271.36" text-anchor="end" textLength="21.94" lengthAdjust="spacingAndGlyphs">5.6K</text>
<text x="1237.3" y="213.98" text-anchor="end" textLength="21.94" lengthAdjust="spacingAndGlyphs">6.4K</text>
<text x="1237.3" y="156.60" text-anchor="end" textLength="21.94" lengthAdjust="spacingAndGlyphs">7.2K</text>
</g>
<text transform="translate(21.2,419.8) rotate(-90)" font-size="10.5" font-weight="700" fill="#e6e6e8" stroke="#e6e6e8" stroke-width="0.45" text-anchor="middle" textLength="85.73" lengthAdjust="spacingAndGlyphs">просування у км кв</text>
<text transform="translate(1258.2,420) rotate(-90)" font-size="10.5" font-weight="700" fill="#e6e6e8" stroke="#e6e6e8" stroke-width="0.45" text-anchor="middle" textLength="109.44" lengthAdjust="spacingAndGlyphs">кількість штурмових дій</text>
<rect x="498" y="715" width="12.4" height="12" fill="#c01a1a"/>
<rect x="627.6" y="715" width="12.4" height="12" fill="#ef7a31"/>
<g font-size="12" fill="#cfcfd1" stroke="#cfcfd1" stroke-width="0.5">
<text x="516.6" y="725.2" textLength="97.51" lengthAdjust="spacingAndGlyphs">просування у км кв</text>
<text x="646.2" y="725.2" textLength="123.58" lengthAdjust="spacingAndGlyphs">кількість штурмових дій</text>
</g>
<g font-weight="700" fill="#ffffff" stroke="#ffffff" stroke-linejoin="miter">
<text x="326.96" y="64.3" font-size="56.5" stroke-width="1.6" letter-spacing="2.2" textLength="327.54" lengthAdjust="spacingAndGlyphs">ДИНАМІКА</text>
<text x="668.25" y="64.3" font-size="56.5" stroke-width="1.6" letter-spacing="2.2" textLength="289.50" lengthAdjust="spacingAndGlyphs">ОКУПАЦІЇ</text>
<text x="414.00" y="116.7" font-size="28.3" stroke-width="1.0" letter-spacing="1.3" textLength="21.91" lengthAdjust="spacingAndGlyphs">В</text>
<text x="444.65" y="116.7" font-size="28.3" stroke-width="1.0" letter-spacing="1.3" textLength="120.81" lengthAdjust="spacingAndGlyphs">РОЗРІЗІ</text>
<text x="575.72" y="116.7" font-size="28.3" stroke-width="1.0" letter-spacing="1.3" textLength="148.80" lengthAdjust="spacingAndGlyphs">МІСЯЦІВ,</text>
<text x="734.51" y="113.2" font-size="23.5" stroke-width="1.0" letter-spacing="0" textLength="16.91" lengthAdjust="spacingAndGlyphs">У</text>
<text x="766.06" y="116.7" font-size="28.3" stroke-width="1.0" letter-spacing="1.3" textLength="49.38" lengthAdjust="spacingAndGlyphs">КМ</text>
<text x="826.10" y="116.7" font-size="28.3" stroke-width="1.0" letter-spacing="1.3" textLength="42.67" lengthAdjust="spacingAndGlyphs">КВ</text>
</g>
<g fill="#46484d"><rect x="9" y="737.2" width="5" height="1.3"/><rect x="16" y="737.2" width="3" height="1.3"/><rect x="20.5" y="737.2" width="3.5" height="1.3"/></g>
</svg>
</body></html>
